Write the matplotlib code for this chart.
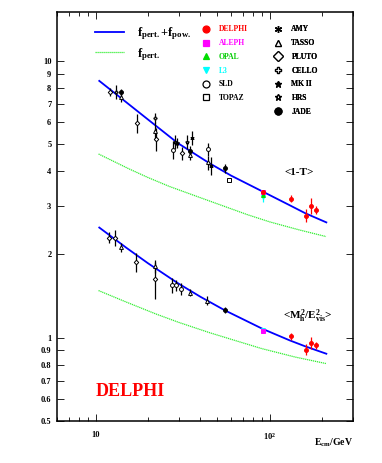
import matplotlib
matplotlib.use("Agg")
import matplotlib.pyplot as plt
from matplotlib.lines import Line2D
from matplotlib.ticker import FixedLocator, NullFormatter

plt.rcParams['font.family'] = ['Liberation Serif', 'DejaVu Serif']
plt.rcParams['font.weight'] = 'bold'
plt.rcParams['mathtext.fontset'] = 'custom'
plt.rcParams['mathtext.rm'] = 'Liberation Serif:bold'
plt.rcParams['mathtext.it'] = 'Liberation Serif:bold'
plt.rcParams['mathtext.bf'] = 'Liberation Serif:bold'

# fitted curves: energy (GeV) and mean value
fit_e = [10.5, 15, 20, 29.6, 45, 60, 91.2, 130, 160, 211]
thrust_full = [8.47, 7.09, 6.14, 5.05, 4.27, 3.85, 3.37, 3.01, 2.815, 2.61]
fit_e2 = [10.5, 15, 20, 29.6, 40, 55, 91.2, 130, 160, 211]
mh_full = [2.50, 2.114, 1.857, 1.575, 1.405, 1.257, 1.075, 0.978, 0.930, 0.875]

pert_e = [10.4, 15.6, 20, 26.5, 43.1, 74.7, 100, 148, 210]
thrust_pert = [4.61, 4.07, 3.79, 3.52, 3.15, 2.78, 2.62, 2.45, 2.32]
pert_e2 = [10.4, 15, 22.2, 30, 45, 61.2, 90, 140, 211]
mh_pert = [1.48, 1.345, 1.218, 1.136, 1.043, 0.983, 0.913, 0.851, 0.806]

# measurements: (energy, <1-T>, err)   and (energy, <Mh2/Evis2>, err)
thrust = {
    'PLUTO': [(12.15, 7.74, 0.25), (17.2, 5.96, 0.45), (22.2, 5.24, 0.5), (31.4, 4.64, 0.25)],
    'TASSO': [(14.0, 7.43, 0.3), (22.0, 5.60, 0.4), (35.0, 4.58, 0.2), (44.0, 4.30, 0.25)],
    'JADE': [(14.0, 7.70, 0.2), (35.0, 4.71, 0.2), (55.1, 4.10, 0.15)],
    'CELLO': [(13.1, 7.74, 0.45), (21.8, 6.21, 0.25)],
    'HRS': [(28.7, 5.11, 0.3), (33.5, 5.11, 0.3)],
    'MK II': [(29.5, 5.05, 0.2)],
    'AMY': [(35.8, 5.26, 0.3), (46.0, 4.18, 0.3)],
    'SLD': [(28.0, 4.77, 0.35), (44.0, 4.80, 0.25)],
    'TOPAZ': [(58.0, 3.70, 0.05)],
    'L3': [(91.2, 3.22, 0.12)],
    'OPAL': [(91.2, 3.28, 0.05)],
    'ALEPH': [(91.2, 3.35, 0.05)],
    'DELPHI': [(91.2, 3.37, 0.05), (133, 3.18, 0.1), (162, 2.76, 0.15),
               (173, 3.00, 0.2), (183, 2.89, 0.1)],
}
mh = {
    'PLUTO': [(12.0, 2.30, 0.1), (13.0, 2.30, 0.15), (17.0, 1.88, 0.15), (22.0, 1.63, 0.25)],
    'TASSO': [(14.05, 2.12, 0.08), (21.9, 1.81, 0.1), (34.7, 1.454, 0.04), (43.4, 1.36, 0.05)],
    'SLD': [(27.6, 1.545, 0.1), (29.0, 1.545, 0.07), (30.8, 1.50, 0.07)],
    'JADE': [(55.5, 1.26, 0.03)],
    'L3': [(91.2, 1.07, 0.01)],
    'ALEPH': [(91.2, 1.06, 0.01)],
    'DELPHI': [(133, 1.01, 0.03), (162, 0.905, 0.04), (173, 0.957, 0.05), (183, 0.938, 0.03)],
}

styles = {
    'DELPHI': dict(marker='o', color='red', mfc='red', text='red'),
    'ALEPH': dict(marker='s', color='magenta', mfc='magenta', text='magenta'),
    'OPAL': dict(marker='^', color='#00dd00', mfc='#00dd00', text='#00cc00'),
    'L3': dict(marker='v', color='cyan', mfc='cyan', text='cyan'),
    'SLD': dict(marker='o', color='black', mfc='white', text='black'),
    'TOPAZ': dict(marker='s', color='black', mfc='white', text='black'),
    'AMY': dict(marker=(6, 2, 0), color='black', mfc='black', text='black'),
    'TASSO': dict(marker='^', color='black', mfc='white', text='black'),
    'PLUTO': dict(marker='D', color='black', mfc='white', text='black'),
    'CELLO': dict(marker='P', color='black', mfc='white', text='black'),
    'MK II': dict(marker='*', color='black', mfc='black', text='black'),
    'HRS': dict(marker='*', color='black', mfc='white', text='black'),
    'JADE': dict(marker='o', color='black', mfc='black', text='black'),
}
col1 = ['DELPHI', 'ALEPH', 'OPAL', 'L3', 'SLD', 'TOPAZ']
col2 = ['AMY', 'TASSO', 'PLUTO', 'CELLO', 'MK II', 'HRS', 'JADE']

fig = plt.figure(figsize=(3.82, 4.63), dpi=100)
ax = fig.add_axes([0.149, 0.0907, 0.775, 0.883])

ax.plot(fit_e, thrust_full, color='blue', lw=1.3)
ax.plot(fit_e2, mh_full, color='blue', lw=1.3)
ax.plot(pert_e, thrust_pert, color='#33ee33', lw=0.9, ls=(0, (1, 0.6)))
ax.plot(pert_e2, mh_pert, color='#33ee33', lw=0.9, ls=(0, (1, 0.6)))

for data in (thrust, mh):
    for name, pts in data.items():
        st = styles[name]
        ms = 2.8 if st['marker'] not in ('D', 'P') else 2.3
        if name == 'MK II':
            ms = 3.3
        for e, v, err in pts:
            ax.errorbar([e], [v], yerr=[err], fmt='none', ecolor=st['color'],
                        elinewidth=0.9, capsize=0, zorder=3)
            ax.plot([e], [v], marker=st['marker'], color=st['color'], mfc=st['mfc'],
                    mec=st['color'], ms=ms, mew=0.7, ls='none', zorder=4)

ax.set_xscale('log')
ax.set_yscale('log')
ax.set_xlim(6, 300)
ax.set_ylim(0.5, 15)

yt = [0.5, 0.6, 0.7, 0.8, 0.9, 1, 2, 3, 4, 5, 6, 7, 8, 9, 10]
ax.yaxis.set_major_locator(FixedLocator(yt))
ax.yaxis.set_minor_locator(FixedLocator([]))
ax.set_yticklabels(['0.5', '0.6', '0.7', '0.8', '0.9', '1', '2', '3', '4', '5',
                    '6', '7', '8', '9', '10'])
ax.set_xticks([10, 100])
ax.set_xticklabels(['10', r'$10^2$'])
ax.xaxis.set_minor_formatter(NullFormatter())
ax.tick_params(which='both', direction='in', top=True, right=True, labelsize=6, width=0.6)
ax.tick_params(which='major', length=5, pad=7)
ax.tick_params(axis='y', which='major', length=5, pad=4)
ax.tick_params(which='minor', length=3)
for s in ax.spines.values():
    s.set_linewidth(1.1)

ax.set_xlabel(r'E$_{cm}$/GeV', fontsize=7, fontweight='bold', loc='right', labelpad=-4)

ax.text(0.82, 0.607, '<1-T>', transform=ax.transAxes, fontsize=8, ha='center', va='center')
ax.text(0.848, 0.257, r'<$M_{h}^{2}/E_{vis}^{2}$>', transform=ax.transAxes, fontsize=8,
        ha='center', va='center')
ax.text(0.13, 0.072, 'DELPHI', transform=ax.transAxes, fontsize=13, color='red',
        fontweight='bold', ha='left', va='center')

# legends
h_lines = [Line2D([], [], color='blue', lw=1.3),
           Line2D([], [], color='#33ee33', lw=0.9, ls=(0, (1, 0.6)))]
leg1 = ax.legend(h_lines, [r'$f_{pert.}$+$f_{pow.}$', r'$f_{pert.}$'], loc='upper left',
                 bbox_to_anchor=(0.09, 0.995), frameon=False, fontsize=9, handlelength=2.3,
                 labelspacing=0.3, handletextpad=1.1)
ax.add_artist(leg1)


def exp_legend(names, x0):
    hs = [Line2D([], [], marker=styles[n]['marker'], color=styles[n]['color'],
                 mfc=styles[n]['mfc'], mec=styles[n]['color'], ms=5, mew=0.9, ls='none')
          for n in names]
    lg = ax.legend(hs, names, loc='upper left', bbox_to_anchor=(x0, 0.975), frameon=False,
                   fontsize=5.5, handlelength=1.0, labelspacing=0.75, handletextpad=1.2,
                   borderaxespad=0)
    for t, n in zip(lg.get_texts(), names):
        t.set_color(styles[n]['text'])
        t.set_fontweight('bold')
    ax.add_artist(lg)


exp_legend(col1, 0.48)
exp_legend(col2, 0.725)

plt.savefig('out.png', dpi=100)
